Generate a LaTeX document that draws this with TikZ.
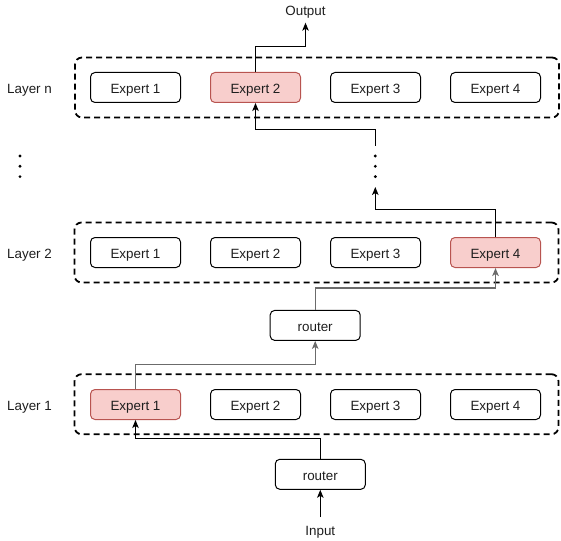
\documentclass[tikz,border=0pt]{standalone}
\usepackage{fontspec}
\setmainfont{Liberation Sans}
\usetikzlibrary{arrows.meta}
\definecolor{pinkfill}{HTML}{F8CECC}
\definecolor{pinkline}{HTML}{B85450}
\definecolor{txt}{HTML}{1E1E1E}
\tikzset{
  lblfont/.style={font=\fontsize{13.4}{16}\selectfont, text=txt,
    text height=11.4pt, text depth=0pt},
  box/.style={lblfont, draw=black, line width=1pt, rounded corners=4.5pt,
    minimum width=90pt, minimum height=30pt, inner sep=0pt},
  hot/.style={box, fill=pinkfill, draw=pinkline},
  group/.style={draw=black, line width=1.8pt, dash pattern=on 6pt off 4pt,
    rounded corners=7pt, minimum width=484pt, minimum height=60pt, inner sep=0pt},
  lbl/.style={lblfont, inner sep=1pt},
  arr/.style={line width=1pt, -{Stealth[length=8pt,width=6.5pt,inset=2pt]}},
  garr/.style={arr, line width=1.4pt, draw=black!58},
  vdotsnode/.style={minimum width=6pt, minimum height=41pt, inner sep=0pt,
    path picture={
      \fill[black] (path picture bounding box.center) circle (1.6pt);
      \fill[black] ([yshift=10.3pt]path picture bounding box.center) circle (1.6pt);
      \fill[black] ([yshift=-10.3pt]path picture bounding box.center) circle (1.6pt);
    }},
}
\begin{document}
\begin{tikzpicture}[x=1pt,y=-1pt]
\useasboundingbox (0,0) rectangle (561,540);
% layer groups
\node[group] (gn) at (317,87.5) {};
\node[group] (g2) at (316.5,252.5) {};
\node[group] (g1) at (316.5,404.2) {};
% labels
\node[lbl] (labn) at (29.5,88.3) {Layer n};
\node[lbl] (lab2) at (29.5,253) {Layer 2};
\node[lbl] (lab1) at (29.5,405) {Layer 1};
% layer n experts
\node[box] (ne1) at (135.5,87.5) {Expert 1};
\node[hot] (ne2) at (255.5,87.5) {Expert 2};
\node[box] (ne3) at (375.5,87.5) {Expert 3};
\node[box] (ne4) at (495.5,87.5) {Expert 4};
% layer 2 experts
\node[box] (te1) at (135.5,252.5) {Expert 1};
\node[box] (te2) at (255.5,252.5) {Expert 2};
\node[box] (te3) at (375.5,252.5) {Expert 3};
\node[hot] (te4) at (495.5,252.5) {Expert 4};
% layer 1 experts
\node[hot] (oe1) at (135.5,404.5) {Expert 1};
\node[box] (oe2) at (255.5,404.5) {Expert 2};
\node[box] (oe3) at (375.5,404.5) {Expert 3};
\node[box] (oe4) at (495.5,404.5) {Expert 4};
% routers
\node[box] (r2) at (315.2,325.4) {router};
\node[box] (r1) at (320.3,474.3) {router};
% input / output
\node[lblfont, inner xsep=1pt, inner ysep=6.6pt] (in) at (320.3,529.6) {Input};
\node[lblfont, inner xsep=1pt, inner ysep=6.5pt] (out) at (305.5,10.3) {Output};
% dots
\node[vdotsnode] (dl) at (20,166.3) {};
\node[vdotsnode] (dr) at (375.3,166.3) {};
% connectors
\draw[arr] (in.north) -- (r1.south);
\draw[arr] (r1.north) -- ++(0,-20) -| (oe1.south);
\draw[garr] (oe1.north) -- ++(0,-24.8) -| (r2.south);
\draw[garr] (r2.north) -- ++(0,-22) -| (te4.south);
\draw[arr] (te4.north) -- ++(0,-27.5) -| (dr.south);
\draw[arr] (dr.north) -- ++(0,-16) -| (ne2.south);
\draw[arr] (ne2.north) -- ++(0,-25.8) -| (out.south);
\end{tikzpicture}
\end{document}
